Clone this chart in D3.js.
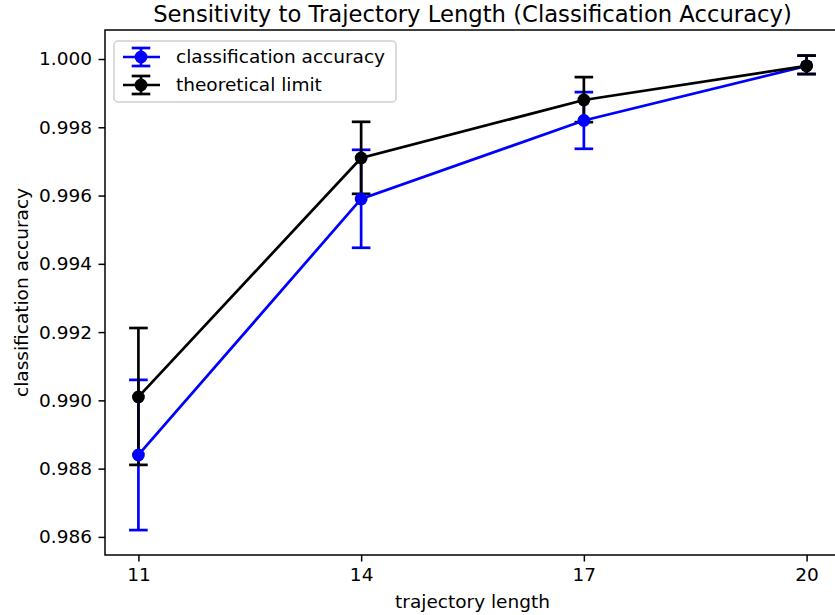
<!DOCTYPE html>
<html>
<head>
<meta charset="utf-8">
<script src="https://cdn.jsdelivr.net/npm/d3@7"></script>
<style>
  body { margin: 0; background: #fff; }
  svg { font-family: "DejaVu Sans", sans-serif; }
</style>
</head>
<body>
<script>
// trajectory lengths on the x axis
var lengths = [11, 14, 17, 20];

// classification accuracy (mean and error bar ends)
var accMean = [0.9884, 0.9959, 0.9982, 0.9998];
var accLow  = [0.9862, 0.99447, 0.99737, 0.99956];
var accHigh = [0.9906, 0.99734, 0.99903, 1.0001];

// theoretical limit
var limMean = [0.9901, 0.9971, 0.9988, 0.9998];
var limLow  = [0.98811, 0.99605, 0.99815, 0.99956];
var limHigh = [0.99212, 0.99816, 0.99947, 1.0001];

var yTicks = [0.986, 0.988, 0.990, 0.992, 0.994, 0.996, 0.998, 1.000];

var W = 835, H = 615;
var margin = {top: 30, right: -5, bottom: 60, left: 105},
    width = W - margin.left - margin.right,
    height = H - margin.top - margin.bottom;

var x = d3.scaleLinear().domain([10.55, 20.45]).range([0, width]);
var y = d3.scaleLinear().domain([0.98547, 1.00085]).range([height, 0]);

var svg = d3.select("body").append("svg")
    .attr("width", W)
    .attr("height", H)
  .append("g")
    .attr("transform", "translate(" + margin.left + "," + margin.top + ")");

// build series from the arrays
function makeSeries(mean, lo, hi) {
  return lengths.map(function(l, i) {
    return {x: l, y: mean[i], lo: lo[i], hi: hi[i]};
  });
}
var series = [
  {name: "classification accuracy", color: "#0000ff", data: makeSeries(accMean, accLow, accHigh)},
  {name: "theoretical limit", color: "#000000", data: makeSeries(limMean, limLow, limHigh)}
];

var cap = 9.3, lw = 2.7, r = 6.4;

// error bars first (they sit under the lines in matplotlib)
series.forEach(function(s) {
  var g = svg.append("g");
  s.data.forEach(function(d) {
    g.append("line")
      .attr("x1", x(d.x)).attr("x2", x(d.x))
      .attr("y1", y(d.lo)).attr("y2", y(d.hi))
      .attr("stroke", s.color).attr("stroke-width", lw);
    [d.lo, d.hi].forEach(function(v) {
      g.append("line")
        .attr("x1", x(d.x) - cap).attr("x2", x(d.x) + cap)
        .attr("y1", y(v)).attr("y2", y(v))
        .attr("stroke", s.color).attr("stroke-width", lw);
    });
  });
});

var line = d3.line()
    .x(function(d) { return x(d.x); })
    .y(function(d) { return y(d.y); });

series.forEach(function(s) {
  svg.append("path")
    .datum(s.data)
    .attr("fill", "none")
    .attr("stroke", s.color)
    .attr("stroke-width", lw)
    .attr("d", line);
  svg.selectAll(null)
    .data(s.data)
    .enter().append("circle")
      .attr("cx", function(d) { return x(d.x); })
      .attr("cy", function(d) { return y(d.y); })
      .attr("r", r)
      .attr("fill", s.color);
});

// axes
var xAxis = svg.append("g")
    .attr("transform", "translate(0," + height + ")")
    .call(d3.axisBottom(x).tickValues(lengths).tickFormat(d3.format("d")).tickSize(6.5).tickPadding(6.5).tickSizeOuter(0));

var yAxis = svg.append("g")
    .call(d3.axisLeft(y).tickValues(yTicks).tickFormat(d3.format(".3f")).tickSize(6.5).tickPadding(6.5).tickSizeOuter(0));

[xAxis, yAxis].forEach(function(a) {
  a.attr("font-family", "DejaVu Sans, sans-serif").attr("font-size", 18.5);
  a.selectAll("text").attr("fill", "#000");
  a.selectAll("line").attr("stroke", "#000").attr("stroke-width", 1.5);
  a.select(".domain").remove();
});

// frame
svg.append("rect")
    .attr("x", 0).attr("y", 0)
    .attr("width", width).attr("height", height)
    .attr("fill", "none")
    .attr("stroke", "#000")
    .attr("stroke-width", 1.5);

// labels
svg.append("text")
    .attr("x", x(15.5))
    .attr("y", -8)
    .attr("text-anchor", "middle")
    .style("font-size", "22.7px")
    .text("Sensitivity to Trajectory Length (Classification Accuracy)");

svg.append("text")
    .attr("x", x(15.5))
    .attr("y", height + 53)
    .attr("text-anchor", "middle")
    .style("font-size", "18.5px")
    .text("trajectory length");

svg.append("text")
    .attr("transform", "rotate(-90)")
    .attr("x", -height / 2)
    .attr("y", -77)
    .attr("text-anchor", "middle")
    .style("font-size", "18.5px")
    .text("classification accuracy");

// legend
var legend = svg.append("g").attr("transform", "translate(9,11)");
legend.append("rect")
    .attr("width", 282).attr("height", 61)
    .attr("rx", 4)
    .attr("fill", "#fff").attr("fill-opacity", 0.8)
    .attr("stroke", "#d0d0d0")
    .attr("stroke-width", 1.5);
series.forEach(function(s, i) {
  var cy = 16 + i * 28, cx = 27;
  var g = legend.append("g");
  g.append("line").attr("x1", 9).attr("x2", 46).attr("y1", cy).attr("y2", cy)
    .attr("stroke", s.color).attr("stroke-width", lw);
  g.append("line").attr("x1", cx).attr("x2", cx).attr("y1", cy - 9).attr("y2", cy + 9)
    .attr("stroke", s.color).attr("stroke-width", lw);
  [cy - 9, cy + 9].forEach(function(v) {
    g.append("line").attr("x1", cx - cap).attr("x2", cx + cap).attr("y1", v).attr("y2", v)
      .attr("stroke", s.color).attr("stroke-width", lw);
  });
  g.append("circle").attr("cx", cx).attr("cy", cy).attr("r", r).attr("fill", s.color);
  g.append("text")
    .attr("x", 62).attr("y", cy)
    .attr("dy", "0.35em")
    .style("font-size", "18.5px")
    .text(s.name);
});
</script>
</body>
</html>
